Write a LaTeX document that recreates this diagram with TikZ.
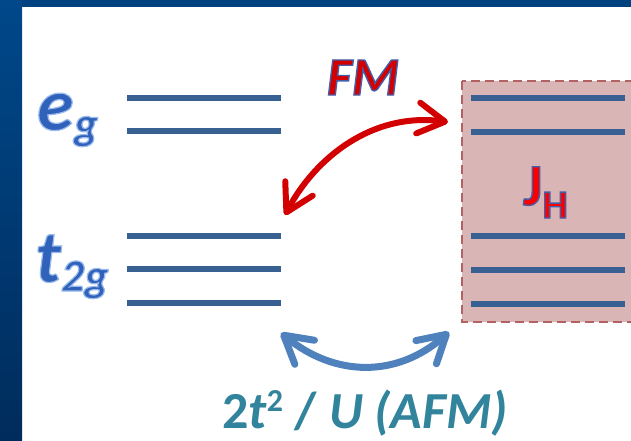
\documentclass[tikz,border=0pt]{standalone}
\usepackage{fontspec}
\setmainfont{Carlito}
\usetikzlibrary{arrows.meta,calc}
\definecolor{bandc}{RGB}{0,66,128}
\definecolor{bandtop}{RGB}{0,72,138}
\definecolor{bandbot}{RGB}{0,44,92}
\definecolor{levelc}{RGB}{56,96,146}
\definecolor{boxfill}{RGB}{217,181,181}
\definecolor{boxline}{RGB}{178,98,98}
\definecolor{fmred}{RGB}{210,0,0}
\definecolor{jhred}{RGB}{250,0,0}
\definecolor{afmblue}{RGB}{79,129,189}
\definecolor{afmtext}{RGB}{49,132,155}
\definecolor{egc}{RGB}{48,98,188}
% #1 fill colour, #2 stroke rgb (0-1 numbers), #3 stroke width, #4 text
\newcommand\outltext[4]{{\color{#1}\special{pdf:literal direct 2 Tr #3 w #2 RG}#4\special{pdf:literal direct 0 Tr}}}
\begin{document}
\begin{tikzpicture}[x=1pt,y=-1pt,
  level/.style={line width=6pt, draw=levelc},
  boxst/.style={fill=boxfill, draw=boxline, line width=2.5pt, dash pattern=on 9pt off 5pt},
  barbs/.style={{Straight Barb[length=27pt,width=31pt,round]}-{Straight Barb[length=27pt,width=31pt,round]}},
  redarrow/.style={barbs, draw=fmred, line width=6pt, line cap=round},
  bluearrow/.style={barbs, draw=afmblue, line width=7pt, line cap=round},
  lbl/.style={inner sep=0pt, outer sep=0pt}]
\useasboundingbox (0,0) rectangle (631,440);
\clip (0,0) rectangle (631,440);
% background
\fill[white] (0,0) rectangle (631,440);
\fill[bandc] (0,0) rectangle (631,7);
\shade[top color=bandtop, bottom color=bandbot] (0,0) rectangle (22,440);
% box
\draw[boxst] (462,81) rectangle (650,322);
% levels left
\foreach \y/\n in {98/1,131/2,236/3,269/4,303/5}{
  \coordinate (la\n) at (127,\y); \coordinate (lb\n) at (281,\y);
  \draw[level] (la\n) -- (lb\n);}
% levels right
\foreach \y/\n in {98/1,132/2,236/3,270/4,304/5}{
  \coordinate (ra\n) at (471,\y); \coordinate (rb\n) at (625,\y);
  \draw[level] (ra\n) -- (rb\n);}
% labels
\node[lbl, anchor=base west, font=\bfseries\itshape] (eg) at (37,130)
  {\outltext{egc}{0.6 0.73 0.92}{1.2}{\fontsize{75}{75}\selectfont e\raisebox{-9pt}{\fontsize{46}{46}\selectfont g}}};
\node[lbl, anchor=base west, font=\bfseries\itshape] (tg) at (35,282)
  {\outltext{egc}{0.6 0.73 0.92}{1.2}{\fontsize{75}{75}\selectfont t\raisebox{-9pt}{\fontsize{46}{46}\selectfont 2g}}};
\node[lbl, anchor=base, font=\bfseries\itshape] (fm) at (363,95)
  {\outltext{fmred}{0.27 0.37 0.67}{1.4}{\fontsize{54}{54}\selectfont FM}};
\node[lbl, anchor=base west, font=\bfseries] (jh) at (523,205)
  {\outltext{jhred}{0.27 0.37 0.67}{1.4}{\fontsize{59}{59}\selectfont J\raisebox{-13pt}{\fontsize{40}{40}\selectfont H}}};
\node[lbl, anchor=base, text=afmtext, font=\bfseries] (afm) at (365,428)
  {\fontsize{52}{52}\selectfont 2\textit{t}\raisebox{17pt}{\fontsize{32}{32}\selectfont 2} / \textit{U (AFM)}};
% arrows
\coordinate (fmL) at (285,215);
\coordinate (fmR) at (448,122);
\draw[redarrow] (fmL) .. controls (315,158) and (372,112) .. (fmR);
\coordinate (afL) at (281,333);
\coordinate (afR) at (449,332);
\draw[bluearrow] (afL) .. controls (335,377) and (397,378) .. (afR);
\end{tikzpicture}
\end{document}
